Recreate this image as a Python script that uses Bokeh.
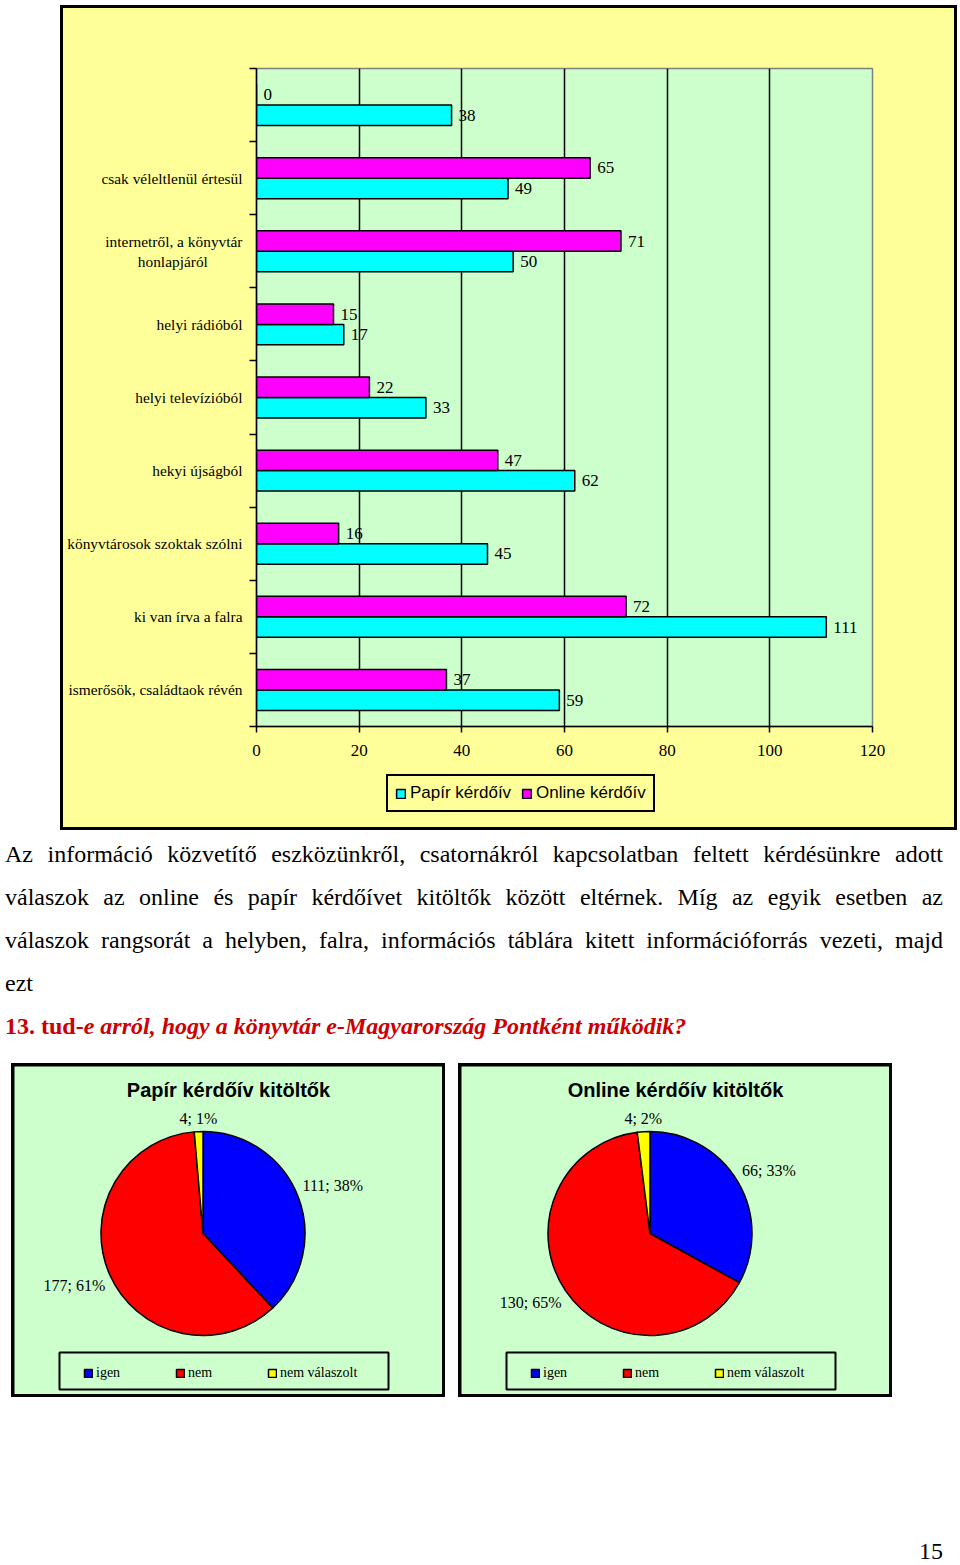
import numpy as np
from math import pi
from bokeh.plotting import figure
from bokeh.models import (ColumnDataSource, Range1d, FixedTicker, Legend, LegendItem,
                          BoxAnnotation, Div)
from bokeh.layouts import column, row
from bokeh.core.properties import value
from bokeh.embed import file_html
from bokeh.resources import INLINE

# ---------------- data ----------------
categories = [
    "",
    "csak véleltlenül értesül",
    "internetről, a könyvtár\nhonlapjáról",
    "helyi rádióból",
    "helyi televízióból",
    "hekyi újságból",
    "könyvtárosok szoktak szólni",
    "ki van írva a falra",
    "ismerősök, családtaok révén",
]
online_values = [0, 65, 71, 15, 22, 47, 16, 72, 37]
paper_values = [38, 49, 50, 17, 33, 62, 45, 111, 59]
x_ticks = [0, 20, 40, 60, 80, 100, 120]
series_names = ["Papír kérdőív", "Online kérdőív"]

pie_titles = ["Papír kérdőív kitöltők", "Online kérdőív kitöltők"]
pie_labels = ["igen", "nem", "nem válaszolt"]
pie_paper = [111, 177, 4]
pie_online = [66, 130, 4]

paragraph_lines = [
    "Az információ közvetítő eszközünkről, csatornákról kapcsolatban feltett kérdésünkre adott",
    "válaszok az online és papír kérdőívet kitöltők között eltérnek. Míg az egyik esetben az",
    "válaszok rangsorát a helyben, falra, információs táblára kitett információforrás vezeti, majd",
    "ezt",
]
question_prefix = "13. tud-"
question_rest = "e arról, hogy a könyvtár e-Magyarország Pontként működik?"
page_number = "15"

# ---------------- styles ----------------
SERIF = "Liberation Serif"
SANS = "Liberation Sans"
YELLOW_BG = "#FFFF99"
GREEN_BG = "#CCFFCC"
CYAN = "#00FFFF"
MAGENTA = "#FF00FF"
PIE_COLORS = ["#0000FF", "#FF0000", "#FFFF00"]
BLACK_BOX = {"background-color": "black"}
NBSP = "\u00a0"


def centered_lines(label):
    """Multi-line tick labels are right aligned; pad the shorter lines so they read centred."""
    parts = label.split("\n")
    if len(parts) == 1:
        return label
    longest = max(len(s) for s in parts)
    return "\n".join(s + NBSP * int(round((longest - len(s)) * 0.75)) for s in parts)


# ---------------- bar chart ----------------
n = len(categories)
centers = [n - k - 0.5 for k in range(n)]
boundaries = list(range(n + 1))
BAR_H = 0.28
mag_y = [c + BAR_H / 2 for c in centers]
cyan_y = [c - BAR_H / 2 for c in centers]

src_on = ColumnDataSource(dict(y=mag_y, v=online_values, t=[str(v) for v in online_values]))
src_pa = ColumnDataSource(dict(y=cyan_y, v=paper_values, t=[str(v) for v in paper_values]))

p = figure(width=891, height=762, x_range=Range1d(0, 120), y_range=Range1d(0, n),
           toolbar_location=None, output_backend="svg", title=None,
           min_border_left=193, min_border_right=82, min_border_top=60, min_border_bottom=44,
           margin=(0, 0, 0, 0))
p.background_fill_color = GREEN_BG
p.border_fill_color = YELLOW_BG
p.outline_line_color = "#808080"
p.outline_line_width = 1.5

p.xgrid.ticker = FixedTicker(ticks=[t for t in x_ticks if 0 < t < 120])
p.xgrid.grid_line_color = "black"
p.xgrid.grid_line_width = 1.5
p.ygrid.visible = False

p.xaxis.ticker = FixedTicker(ticks=x_ticks)
p.xaxis.major_tick_out = 6
p.xaxis.major_tick_in = 0
p.xaxis.minor_tick_line_color = None
p.xaxis.axis_line_color = "black"
p.xaxis.axis_line_width = 1.5
p.xaxis.major_tick_line_width = 1.5
p.xaxis.major_label_text_font = SERIF
p.xaxis.major_label_text_font_size = "17px"
p.xaxis.major_label_text_color = "black"
p.xaxis.major_label_standoff = 12

p.yaxis.ticker = FixedTicker(ticks=centers, minor_ticks=boundaries)
p.yaxis.major_tick_out = 0
p.yaxis.major_tick_in = 0
p.yaxis.minor_tick_out = 7
p.yaxis.minor_tick_in = 0
p.yaxis.minor_tick_line_color = "black"
p.yaxis.minor_tick_line_width = 1.5
p.yaxis.axis_line_color = "black"
p.yaxis.axis_line_width = 1.5
p.yaxis.major_label_overrides = {c: centered_lines(lab) for c, lab in zip(centers, categories)}
p.yaxis.major_label_text_font = SERIF
p.yaxis.major_label_text_font_size = "15.4px"
p.yaxis.major_label_text_color = "black"
p.yaxis.major_label_standoff = 7

r_pa = p.hbar(y="y", right="v", left=0, height=BAR_H, source=src_pa,
              fill_color=CYAN, line_color="black", line_width=1.5)
r_on = p.hbar(y="y", right="v", left=0, height=BAR_H, source=src_on,
              fill_color=MAGENTA, line_color="black", line_width=1.5)

# value labels sit under the grid lines, as in the original
for s in (src_on, src_pa):
    p.text(x="v", y="y", text="t", source=s, x_offset=7, text_baseline="middle",
           text_align="left", text_font=value(SERIF), text_font_size="17px",
           text_color="black", level="underlay")

# legend strip (inside the same yellow box, below the axis); its frame is aligned
# with the chart's frame by the column layout
lf = figure(width=891, height=57, x_range=Range1d(0, 1), y_range=Range1d(0, 1),
            toolbar_location=None, output_backend="svg", title=None,
            min_border=0, margin=(0, 0, 0, 0))
lf.axis.visible = False
lf.grid.visible = False
lf.background_fill_color = YELLOW_BG
lf.border_fill_color = YELLOW_BG
lf.outline_line_color = None
# legend-key proxies, kept outside the visible range
key_src = ColumnDataSource(dict(y=[-1.0], v=[0.0]))
k_pa = lf.hbar(y="y", right="v", left=0, height=0.1, source=key_src, fill_color=CYAN,
               line_color="black", line_width=1.5)
k_on = lf.hbar(y="y", right="v", left=0, height=0.1, source=key_src, fill_color=MAGENTA,
               line_color="black", line_width=1.5)
leg = Legend(items=[LegendItem(label=series_names[0], renderers=[k_pa]),
                    LegendItem(label=series_names[1], renderers=[k_on])],
             orientation="horizontal", location=(130, 15), margin=0,
             glyph_width=11, glyph_height=11, label_standoff=4, spacing=10,
             padding=7, label_height=17,
             label_text_font=SANS, label_text_font_size="17px", label_text_color="black",
             border_line_color="black", border_line_width=2, border_line_alpha=1.0,
             background_fill_color=YELLOW_BG, background_fill_alpha=1.0)
lf.add_layout(leg, "center")

bar_inner = column(p, lf, styles={"background-color": YELLOW_BG}, margin=(3, 3, 3, 3))
bar_box = column(bar_inner, styles=BLACK_BOX, margin=(5, 0, 0, 60))

# ---------------- text ----------------
line_style = "text-align:justify;text-align-last:justify;"
html = ("<div style=\"width:938px;font-family:'Liberation Serif','Times New Roman',serif;"
        "font-size:24px;line-height:43px;color:#000;\">")
for i, ln in enumerate(paragraph_lines):
    st = line_style if i < len(paragraph_lines) - 1 else ""
    html += f"<div style=\"{st}\">{ln}</div>"
html += (f"<div style=\"color:#cc0000;font-weight:bold;\">{question_prefix}"
         f"<i>{question_rest}</i></div></div>")
text_div = Div(text=html, width=938, height=215, margin=(3, 0, 0, 5))

# ---------------- pies ----------------
PW, PH = 428, 328
CX, CY, R = 188.5, 161, 102


def make_pie(title, vals):
    total = sum(vals)
    frac = np.array(vals, dtype=float) / total
    cum = np.concatenate([[0.0], np.cumsum(frac)])
    start = pi / 2 - 2 * pi * cum[:-1]
    end = pi / 2 - 2 * pi * cum[1:]
    mid = (start + end) / 2
    src = ColumnDataSource(dict(start=start, end=end, color=PIE_COLORS, label=pie_labels))

    f = figure(width=PW, height=PH, x_range=Range1d(0, PW), y_range=Range1d(0, PH),
               toolbar_location=None, output_backend="svg", title=None,
               min_border=0, margin=(3, 3, 3, 3))
    f.axis.visible = False
    f.grid.visible = False
    f.background_fill_color = GREEN_BG
    f.border_fill_color = GREEN_BG
    f.outline_line_color = None

    w = f.wedge(x=CX, y=CY, radius=R, start_angle="start", end_angle="end",
                direction="clock", fill_color="color", line_color="black",
                line_width=1.5, source=src)

    # data labels: text box corner touches a circle just outside the pie
    lx = CX + (R + 5) * np.cos(mid)
    ly = CY + (R + 5) * np.sin(mid)
    texts = [f"{v}; {round(100 * v / total)}%" for v in vals]
    aligns = ["left" if np.cos(m) > 0.2 else ("right" if np.cos(m) < -0.2 else "center")
              for m in mid]
    bases = ["bottom" if np.sin(m) > 0 else "top" for m in mid]
    for al in ("left", "right", "center"):
        for bl in ("bottom", "top"):
            idx = [i for i in range(len(vals)) if aligns[i] == al and bases[i] == bl]
            if not idx:
                continue
            s = ColumnDataSource(dict(x=[lx[i] for i in idx], y=[ly[i] for i in idx],
                                      t=[texts[i] for i in idx]))
            f.text(x="x", y="y", text="t", source=s, text_align=al, text_baseline=bl,
                   text_font=value(SERIF), text_font_size="16px", text_color="black")

    # title
    ts = ColumnDataSource(dict(x=[PW / 2], y=[PH - 23], t=[title]))
    f.text(x="x", y="y", text="t", source=ts, text_align="center", text_baseline="middle",
           text_font=value(SANS), text_font_style="bold", text_font_size="20px",
           text_color="black")

    # legend
    f.add_layout(BoxAnnotation(left=45, right=374, bottom=5, top=42, fill_alpha=0,
                               fill_color=None, line_color="black", line_alpha=1.0,
                               line_width=2))
    lg = Legend(items=[LegendItem(label=lab, renderers=[w], index=i)
                       for i, lab in enumerate(pie_labels)],
                orientation="horizontal", location=(69, 11),
                glyph_width=10, glyph_height=10, label_standoff=3, label_width=79,
                spacing=0, padding=4, label_height=20, margin=0,
                label_text_font=SERIF, label_text_font_size="14px", label_text_color="black",
                border_line_color=None, background_fill_alpha=0)
    f.add_layout(lg, "center")
    return f


pie1 = column(make_pie(pie_titles[0], pie_paper), styles=BLACK_BOX)
pie2 = column(make_pie(pie_titles[1], pie_online), styles=BLACK_BOX, margin=(0, 0, 0, 13))
pies = row(pie1, pie2, margin=(15, 0, 0, 11))

num_div = Div(text=("<div style=\"width:943px;font-family:'Liberation Serif',serif;"
                    f"font-size:24px;line-height:16px;text-align:right;\">{page_number}</div>"),
              width=943, height=18, margin=(146, 0, 0, 0))

layout = column(bar_box, text_div, pies, num_div)

open("out.html", "w").write(file_html(layout, INLINE))
